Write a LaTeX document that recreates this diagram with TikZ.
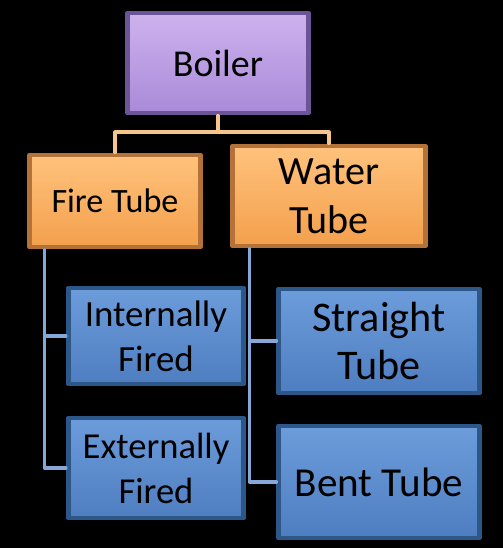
\documentclass[tikz,border=0pt]{standalone}
\usepackage{fontspec}
\setmainfont{Carlito}
\usetikzlibrary{calc, positioning}
\usepackage{xcolor}
\definecolor{purpletop}{HTML}{CDB2EE}
\definecolor{purplebot}{HTML}{A98AD8}
\definecolor{purpleedge}{HTML}{6C5597}
\definecolor{orangetop}{HTML}{FFC27C}
\definecolor{orangebot}{HTML}{F3A04C}
\definecolor{orangeedge}{HTML}{B47238}
\definecolor{bluetop}{HTML}{6C9CDA}
\definecolor{bluebot}{HTML}{4E7EC0}
\definecolor{blueedge}{HTML}{2D5789}
\definecolor{orangeline}{HTML}{F5C68C}
\definecolor{blueline}{HTML}{86A8D8}

\begin{document}
\begin{tikzpicture}[line cap=round,line join=round,x=0.01cm,y=-0.01cm,
  box/.style={inner sep=0pt, align=center, line width=1.4pt},
  purplebox/.style={box, top color=purpletop, bottom color=purplebot, draw=purpleedge},
  orangebox/.style={box, top color=orangetop, bottom color=orangebot, draw=orangeedge},
  bluebox/.style={box, top color=bluetop, bottom color=bluebot, draw=blueedge},
  oline/.style={color=orangeline, line width=0.9pt},
  bline/.style={color=blueline, line width=0.9pt}]
% Background
\useasboundingbox (0,0) rectangle (503,548);
\fill [black] (0,0) rectangle (503,548);

% Boxes
\node [purplebox, minimum width=1.8cm, minimum height=1.0cm, font=\fontsize{10.8}{13}\selectfont] (boiler) at (218,63) {Boiler};
\node [orangebox, minimum width=1.7cm, minimum height=0.92cm, font=\fontsize{9.7}{12}\selectfont] (fire) at (115,201) {Fire Tube};
\node [orangebox, minimum width=1.92cm, minimum height=1.0cm, font=\fontsize{11.4}{13.9}\selectfont] (water) at (329,196) {Water\\Tube};
\node [bluebox, minimum width=1.75cm, minimum height=0.96cm, font=\fontsize{10.5}{12.8}\selectfont] (intf) at (156,336) {Internally\\Fired};
\node [bluebox, minimum width=1.75cm, minimum height=1.0cm, font=\fontsize{10.4}{12.8}\selectfont] (extf) at (156,468) {Externally\\Fired};
\node [bluebox, minimum width=2.0cm, minimum height=1.04cm, font=\fontsize{12}{13.7}\selectfont] (straight) at (379,341) {Straight\\Tube};
\node [bluebox, minimum width=2.0cm, minimum height=1.12cm, font=\fontsize{11.7}{14}\selectfont] (bent) at (379,482) {Bent Tube};

% Connectors
\coordinate (split) at (218,132);
\draw [oline] (boiler.south) -- (split);
\draw [oline] (fire.north) |- (split) -| (water.north);

\coordinate (ftrunk) at ([xshift=0.17cm]fire.south west);
\coordinate (wtrunk) at ([xshift=0.19cm]water.south west);
\draw [bline] (ftrunk) |- (extf.west);
\draw [bline] (ftrunk |- intf.west) -- (intf.west);
\draw [bline] (wtrunk) |- (bent.west);
\draw [bline] (wtrunk |- straight.west) -- (straight.west);
\end{tikzpicture}
\end{document}
